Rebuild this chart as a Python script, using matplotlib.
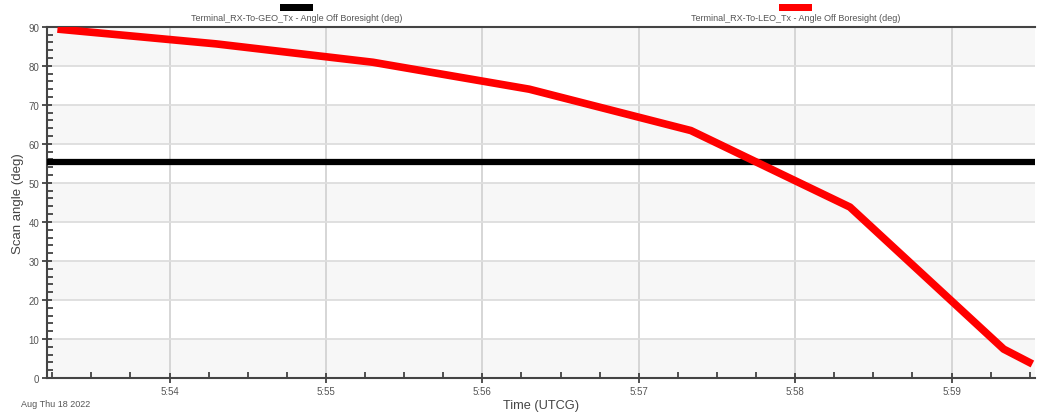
import numpy as np
import pandas as pd
import matplotlib
matplotlib.use('Agg')
import matplotlib.pyplot as plt
import matplotlib.dates as mdates
from matplotlib.patches import Rectangle
from matplotlib.ticker import MultipleLocator

plt.rcParams['font.family'] = ['Liberation Sans', 'DejaVu Sans']

# series
geo_times = ['2022-08-18 05:53:13', '2022-08-18 05:59:32']
geo_angle = [55.4, 55.4]

leo_times = ['2022-08-18 05:53:17', '2022-08-18 05:54:18', '2022-08-18 05:55:18',
             '2022-08-18 05:56:18', '2022-08-18 05:57:20', '2022-08-18 05:58:21',
             '2022-08-18 05:59:20', '2022-08-18 05:59:31']
leo_angle = [89.4, 85.6, 80.9, 74.0, 63.4, 43.8, 7.4, 3.6]

series_names = ['Terminal_RX-To-GEO_Tx - Angle Off Boresight (deg)',
                'Terminal_RX-To-LEO_Tx - Angle Off Boresight (deg)']
series_colors = ['#000000', '#ff0000']

x_start = pd.Timestamp('2022-08-18 05:53:13')
x_end = pd.Timestamp('2022-08-18 05:59:32')

fig = plt.figure(figsize=(10.38, 4.14), dpi=100)
ax = fig.add_axes([0.0453, 0.0845, 0.9518, 0.8485])

# alternating horizontal bands
for lo in range(0, 90, 20):
    ax.axhspan(lo, lo + 10, color='#f7f7f7', zorder=0, lw=0)

ax.grid(True, which='major', axis='y', color='#dddddd', lw=1.3, zorder=1)
ax.grid(True, which='major', axis='x', color='#d0d0d0', lw=1.2, zorder=1)

ax.plot(pd.to_datetime(geo_times), geo_angle, color=series_colors[0], lw=4.5,
        solid_capstyle='butt', zorder=3)
ax.plot(pd.to_datetime(leo_times), leo_angle, color=series_colors[1], lw=5.5,
        solid_capstyle='butt', solid_joinstyle='round', zorder=4)

ax.set_xlim(x_start, x_end)
ax.set_ylim(0, 90)

ax.xaxis.set_major_locator(mdates.MinuteLocator())
ax.xaxis.set_minor_locator(mdates.SecondLocator(bysecond=[0, 15, 30, 45]))
ax.xaxis.set_major_formatter(mdates.DateFormatter('%-H:%M'))
ax.yaxis.set_major_locator(MultipleLocator(10))
ax.yaxis.set_minor_locator(MultipleLocator(2))

ax.tick_params(axis='both', which='major', direction='inout', length=7, width=1.2,
               color='#333333', labelsize=7, labelcolor='#555555')
ax.tick_params(axis='both', which='minor', direction='in', length=4, width=1.2,
               color='#333333')
ax.tick_params(axis='x', which='major', pad=2)
ax.tick_params(axis='y', which='major', pad=2)

for side in ['left', 'bottom', 'top']:
    ax.spines[side].set_color('#444444')
    ax.spines[side].set_linewidth(1.5)
ax.spines['right'].set_visible(False)

ax.set_ylabel('Scan angle (deg)', fontsize=9.5, color='#444444', labelpad=3)
ax.set_xlabel('Time (UTCG)', fontsize=9.2, color='#444444', labelpad=2.5)
fig.text(0.0202, 0.024, 'Aug Thu 18 2022', fontsize=6.5, color='#555555', ha='left', va='center')

# legend above the plot
for cx, name, col in zip([0.2855, 0.7665], series_names, series_colors):
    fig.patches.append(Rectangle((cx - 0.016, 0.9715), 0.032, 0.017, transform=fig.transFigure,
                                 facecolor=col, edgecolor='none'))
    fig.text(cx, 0.955, name, fontsize=6.5, color='#555555', ha='center', va='center')

fig.savefig('out.png', dpi=100)
